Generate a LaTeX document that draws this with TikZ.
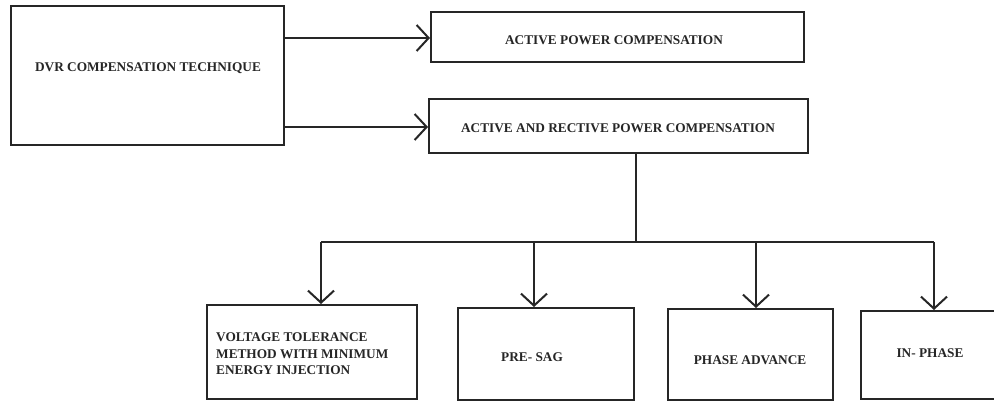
\documentclass[tikz,border=0pt]{standalone}
\usepackage{fontspec}
\setmainfont{Liberation Serif}
\usetikzlibrary{arrows.meta}
\begin{document}
\begin{tikzpicture}[x=1pt,y=-1pt,
  box/.style={draw=black!85, line width=2pt, rectangle, inner sep=0pt},
  lbl/.style={font=\fontsize{13.3}{16.5}\selectfont\bfseries, text=black!85, inner sep=0pt},
  conn/.style={draw=black!85, line width=2pt},
  arr/.style={conn, -{Straight Barb[length=12pt,width=26pt,line width=2pt]}}]
\useasboundingbox (0,0) rectangle (994,402);
\fill[white] (0,0) rectangle (994,402);
% boxes
\node[box, minimum width=273pt, minimum height=139pt] (dvr) at (147.5,75.5) {};
\node[box, minimum width=373pt, minimum height=50pt] (ap) at (617.5,37) {};
\node[box, minimum width=379pt, minimum height=54pt] (arp) at (618.5,126) {};
\node[box, minimum width=210pt, minimum height=94pt] (b1) at (312,352) {};
\node[box, minimum width=176pt, minimum height=92pt] (b2) at (546,354) {};
\node[box, minimum width=165pt, minimum height=91pt] (b3) at (750.5,354.5) {};
\node[box, minimum width=140pt, minimum height=88pt] (b4) at (931,355) {};
% texts
\node[lbl] (tdvr) at (148,68) {DVR COMPENSATION TECHNIQUE};
\node[lbl] (tap) at (614,40) {ACTIVE POWER COMPENSATION};
\node[lbl] (tarp) at (618,128) {ACTIVE AND RECTIVE POWER COMPENSATION};
\node[lbl, anchor=west, align=left] (tb1) at (216,354) {VOLTAGE TOLERANCE\\METHOD WITH MINIMUM\\ENERGY INJECTION};
\node[lbl] (tb2) at (532,357) {PRE- SAG};
\node[lbl] (tb3) at (750,360) {PHASE ADVANCE};
\node[lbl] (tb4) at (930,353) {IN- PHASE};
% connectors
\coordinate (s1) at (284,38);
\coordinate (s2) at (284,127);
\draw[arr] (s1) -- (s1 -| ap.west);
\draw[arr] (s2) -- (s2 -| arp.west);
\coordinate (top) at (636,153);
\coordinate (bus) at (636,242);
\coordinate (bl) at (321,242);
\coordinate (br) at (934,242);
\coordinate (bm2) at (534,242);
\coordinate (bm3) at (756,242);
\draw[conn] (top) -- (bus);
\draw[conn] (bl) -- (br);
\draw[arr] (bl) -- (bl |- b1.north);
\draw[arr] (bm2) -- (bm2 |- b2.north);
\draw[arr] (bm3) -- (bm3 |- b3.north);
\draw[arr] (br) -- (br |- b4.north);
\end{tikzpicture}
\end{document}
